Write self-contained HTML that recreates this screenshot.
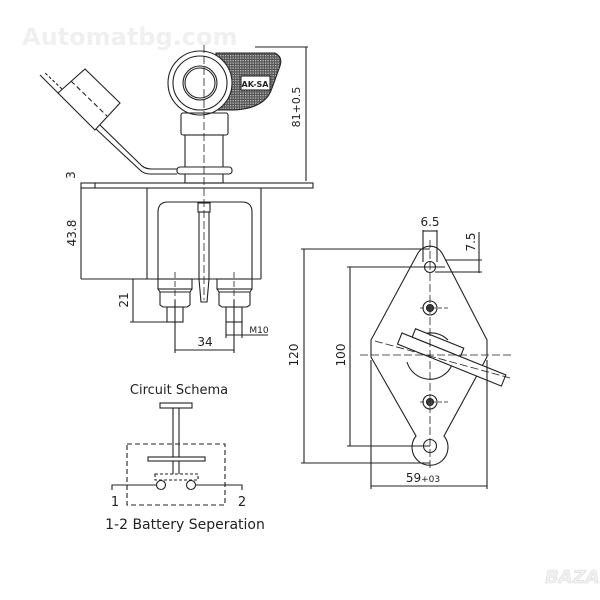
<!DOCTYPE html>
<html><head><meta charset="utf-8"><style>
html,body{margin:0;padding:0;background:#fff;}
svg{display:block;}
text{font-family:"DejaVu Sans","Liberation Sans",sans-serif;fill:#222;}
</style></head><body>
<svg width="600" height="600" viewBox="0 0 600 600" xmlns="http://www.w3.org/2000/svg">
<defs>
<pattern id="h" width="2.5" height="2.5" patternUnits="userSpaceOnUse"><rect width="2.5" height="2.5" fill="#555"/><rect width="1.3" height="1.3" fill="#bbb"/></pattern>
</defs>
<text x="22" y="45" font-size="24" font-weight="bold" style="fill:#f0f0f0">Automatbg.com</text>
<text x="545" y="583" font-size="18" font-weight="bold" font-style="italic" style="fill:#f0f0f0;stroke:#ddd;stroke-width:0.6">BAZAR</text>

<g stroke="#222" stroke-width="1.1" fill="none">
<!-- 81 dim -->
<line x1="255" y1="47" x2="308" y2="47"/><line x1="306" y1="47" x2="306" y2="181"/>
<!-- plate -->
<rect x="81" y="183" width="232" height="5" fill="#fff"/>
<line x1="95" y1="183" x2="95" y2="188"/>
<!-- body -->
<line x1="147" y1="188" x2="147" y2="279"/><line x1="261" y1="188" x2="261" y2="279"/>
<line x1="81" y1="279" x2="261" y2="279"/>
<line x1="81" y1="188" x2="81" y2="279"/>
<path d="M158 279 V212 Q158 202 168 202 H242 Q252 202 252 212 V279"/>
<!-- shaft -->
<rect x="199" y="212" width="10" height="67"/>
<rect x="198" y="203" width="12" height="9" fill="#fff"/>
<path d="M199 279 L201 302 H207 L209 279"/>
<!-- terminals -->
<rect x="158" y="279" width="34" height="10"/>
<path d="M158 289 L160 292 L160 305 L163 307 H187 L190 305 L190 292 L192 289"/>
<line x1="160" y1="292" x2="190" y2="292"/>
<rect x="167" y="307" width="16" height="15"/>
<rect x="217" y="279" width="35" height="10"/>
<path d="M217 289 L219 292 L219 305 L222 307 H247 L250 305 L250 292 L252 289"/>
<line x1="219" y1="292" x2="250" y2="292"/>
<rect x="226" y="307" width="16" height="15"/>
<!-- dims 21/34/M10 -->
<line x1="133" y1="279" x2="133" y2="322"/><line x1="130" y1="322" x2="167" y2="322"/>
<line x1="175" y1="300" x2="175" y2="353"/><line x1="234" y1="300" x2="234" y2="353"/>
<line x1="175" y1="350" x2="234" y2="350"/>
<line x1="226" y1="322" x2="226" y2="338"/><line x1="242" y1="322" x2="242" y2="338"/>
<line x1="226" y1="335" x2="268" y2="335"/>
<!-- knob -->
<path d="M216 53 H275 Q283 57 280 66 L272 88 Q266 108 235 110 H216 Z" fill="url(#h)"/>
<rect x="241" y="76" width="29" height="14" fill="#fff"/>
<circle cx="200" cy="83" r="32" fill="#fff"/>
<circle cx="200" cy="83" r="27"/>
<circle cx="200" cy="83" r="17"/>
<circle cx="200" cy="83" r="15"/>
<rect x="181" y="113" width="47" height="22" rx="2"/>
<rect x="185" y="135" width="38" height="48"/>
<rect x="177" y="167" width="55" height="7" rx="3" fill="#fff"/>
<!-- cap -->
<polygon points="58,93 85,69 120,103 95,130"/>
<line x1="71" y1="81" x2="107" y2="116" stroke-dasharray="5,3"/>
<path d="M96 129 L140 170 Q144 174 150 174 H177"/>
<path d="M100 125 L142 166 Q146 169 152 169 H177"/>
<line x1="58" y1="93" x2="40" y2="75"/><line x1="62" y1="89" x2="44" y2="72" stroke-dasharray="3,2"/>
<!-- centerline -->
<line x1="204" y1="45" x2="204" y2="300" stroke-dasharray="8,3" stroke-width="0.8"/>
<line x1="175" y1="272" x2="175" y2="322" stroke-dasharray="6,3" stroke-width="0.8"/>
<line x1="234" y1="272" x2="234" y2="322" stroke-dasharray="6,3" stroke-width="0.8"/>

<!-- right plate -->
<path d="M418 253 A14 14 0 0 1 442 253 L487 340 V357 L444 436 A18 18 0 1 1 416 436 L371 357 V340 Z" fill="#fff"/>
<circle cx="430" cy="267" r="5.5"/>
<circle cx="430" cy="446" r="6.5"/>
<circle cx="430" cy="308" r="7"/><circle cx="430" cy="308" r="3.5" fill="#444"/>
<circle cx="430" cy="402" r="7"/><circle cx="430" cy="402" r="3.5" fill="#444"/>
<path d="M407 362 A24 24 0 0 0 452 365"/>
<path d="M410 345 A24 24 0 0 1 448 340"/>
<g transform="rotate(22 450 361)">
<rect x="395" y="353" width="112" height="12" fill="#fff"/>
<rect x="406" y="344" width="52" height="9" fill="#fff"/>
</g>
<line x1="430" y1="240" x2="430" y2="470" stroke-dasharray="8,3" stroke-width="0.8"/>
<line x1="360" y1="355" x2="512" y2="355" stroke-dasharray="8,3" stroke-width="0.8"/>
<line x1="420" y1="308" x2="450" y2="308" stroke-dasharray="4,2" stroke-width="0.8"/>
<line x1="420" y1="402" x2="450" y2="402" stroke-dasharray="4,2" stroke-width="0.8"/>
<line x1="375" y1="341" x2="510" y2="378" stroke-dasharray="8,3" stroke-width="0.8"/>
<!-- right dims -->
<line x1="304" y1="249" x2="304" y2="463"/>
<line x1="301" y1="249" x2="430" y2="249"/><line x1="301" y1="463" x2="430" y2="463"/>
<line x1="350" y1="267" x2="350" y2="446"/>
<line x1="347" y1="267" x2="445" y2="267"/><line x1="347" y1="446" x2="430" y2="446"/>
<line x1="371" y1="360" x2="371" y2="489"/><line x1="487" y1="360" x2="487" y2="489"/>
<line x1="371" y1="486" x2="487" y2="486"/>
<line x1="423" y1="230" x2="423" y2="262"/><line x1="437" y1="230" x2="437" y2="262"/>
<line x1="423" y1="231" x2="437" y2="231"/>
<line x1="479" y1="232" x2="479" y2="273"/>
<line x1="445" y1="260" x2="482" y2="260"/><line x1="435" y1="272" x2="482" y2="272"/>

<!-- circuit schema -->
<rect x="160" y="403" width="32" height="5"/>
<line x1="173" y1="408" x2="173" y2="474"/><line x1="179" y1="408" x2="179" y2="474"/>
<rect x="127" y="444" width="98" height="61" stroke-dasharray="5,3"/>
<rect x="148" y="457" width="57" height="4" fill="#fff"/>
<rect x="155" y="474" width="43" height="6" stroke-dasharray="3,2"/>
<circle cx="161" cy="485" r="4.5" fill="#fff"/><circle cx="191" cy="485" r="4.5" fill="#fff"/>
<path d="M112 490 V485 H156.5"/><path d="M195.5 485 H242 V490"/>
</g>
<g font-size="12">
<text x="300" y="107" text-anchor="middle" transform="rotate(-90 300 107)" font-size="11">81+0.5</text>
<text x="75" y="175" text-anchor="middle" transform="rotate(-90 75 175)">3</text>
<text x="76" y="233" text-anchor="middle" transform="rotate(-90 76 233)">43.8</text>
<text x="128" y="300" text-anchor="middle" transform="rotate(-90 128 300)">21</text>
<text x="205" y="346" text-anchor="middle">34</text>
<text x="259" y="333" text-anchor="middle" font-size="9">M10</text>
<text x="255" y="87" text-anchor="middle" font-size="8" font-weight="bold">AK-SA</text>
<text x="298" y="355" text-anchor="middle" transform="rotate(-90 298 355)">120</text>
<text x="345" y="355" text-anchor="middle" transform="rotate(-90 345 355)">100</text>
<text x="423" y="482" text-anchor="middle">59<tspan font-size="9">+03</tspan></text>
<text x="430" y="226" text-anchor="middle">6.5</text>
<text x="475" y="242" text-anchor="middle" transform="rotate(-90 475 242)">7.5</text>
<text x="179" y="394" text-anchor="middle" font-size="13">Circuit Schema</text>
<text x="115" y="506" text-anchor="middle" font-size="13">1</text>
<text x="242" y="506" text-anchor="middle" font-size="13">2</text>
<text x="185" y="529" text-anchor="middle" font-size="14">1-2 Battery Seperation</text>
</g>
</svg>
</body></html>
